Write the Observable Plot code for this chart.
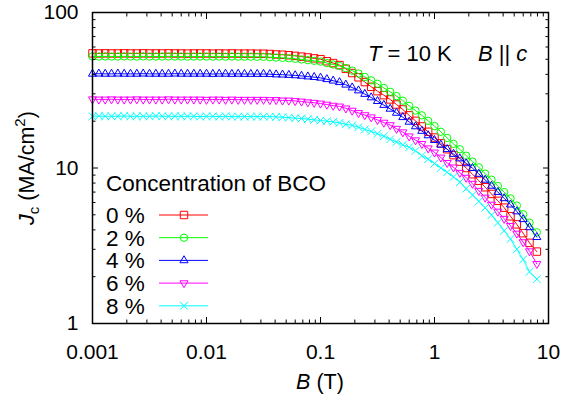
<!DOCTYPE html>
<html><head><meta charset="utf-8">
<script src="https://cdn.jsdelivr.net/npm/d3@7"></script>
<script src="https://cdn.jsdelivr.net/npm/@observablehq/plot@0.6"></script>
<style>
body{margin:0;background:#fff;}
#chart{position:relative;width:563px;height:396px;}
</style></head><body><div id="chart"></div>
<script>
// Magnetic field B (T)
const B = [0.001,0.001137,0.001292,0.001468,0.001668,0.001896,0.002154,0.002448,0.002783,0.003162,0.003594,0.004084,0.004642,0.005275,0.005995,0.006813,0.007743,0.008799,
0.01,0.01137,0.01292,0.01468,0.01668,0.01896,0.02154,0.02448,0.02783,0.03162,0.03594,0.04084,0.04642,0.05275,0.05995,0.06813,0.07743,0.08799,
0.1,0.1137,0.1292,0.1468,0.1668,0.1896,0.2154,0.2448,0.2783,0.3162,0.3594,0.4084,0.4642,0.5275,0.5995,0.6813,0.7743,0.8799,
1,1.137,1.292,1.468,1.668,1.896,2.154,2.448,2.783,3.162,3.594,4.084,4.642,5.275,5.995,6.813,7.9];

// Jc (MA/cm2) for each BCO concentration
const jc0 = [54.6,54.5,54.6,54.5,54.5,54.6,54.5,54.5,54.6,54.5,54.5,54.5,54.6,54.5,54.5,54.4,54.5,54.5,54.5,54.4,54.5,54.4,54.5,54.4,54.4,54.4,54.3,
54.3,54.1,53.7,53.5,53.1,52.6,52.0,51.4,50.7,50.1,48.6,47.3,45.9,43.4,40.8,38.3,35.7,33.3,31.2,29.4,27.6,25.6,23.8,21.8,20.1,18.5,17.1,15.7,14.4,13.2,12.1,11.0,10.0,9.12,8.28,7.52,6.81,6.15,5.56,4.89,4.34,3.81,3.30,2.90];
const jc2 = [52.2,52.1,52.2,52.1,52.1,52.2,52.1,52.1,52.2,52.1,52.1,52.1,52.2,52.1,52.1,52.0,52.1,52.1,52.1,52.0,52.1,52.0,52.1,52.0,52.0,52.0,51.9,
51.9,51.6,51.3,51.1,50.8,50.4,49.9,49.4,48.9,48.4,47.3,46.3,45.3,43.9,42.3,40.5,38.5,36.6,34.8,32.7,30.9,29.0,27.1,25.1,23.4,21.8,20.1,18.6,17.1,15.6,14.3,13.2,12.0,11.0,10.1,9.20,8.41,7.66,7.00,6.37,5.73,5.04,4.45,3.86];
const jc4 = [40.3,40.4,40.3,40.3,40.4,40.3,40.3,40.3,40.4,40.3,40.3,40.3,40.3,40.4,40.3,40.3,40.3,40.3,40.3,40.2,40.3,40.3,40.2,40.3,40.2,40.2,40.2,
40.2,40.1,39.9,39.8,39.6,39.4,39.1,38.7,38.4,38.0,37.2,36.4,35.6,34.3,32.9,31.5,29.9,28.4,26.9,25.4,24.0,22.6,21.2,19.8,18.5,17.3,16.2,15.1,14.1,13.2,12.3,11.5,10.7,9.98,9.16,8.39,7.67,7.00,6.38,5.81,5.25,4.68,4.15,3.59];
const jc6 = [27.7,27.6,27.6,27.7,27.6,27.6,27.6,27.7,27.6,27.6,27.6,27.6,27.7,27.6,27.6,27.6,27.6,27.6,27.5,27.6,27.6,27.5,27.6,27.5,27.5,27.5,27.5,
27.5,27.4,27.4,27.2,27.2,27.0,26.8,26.5,26.3,26.0,25.6,25.2,24.9,24.2,23.4,22.6,21.9,21.2,20.4,19.6,18.9,17.9,17.0,16.0,15.1,14.3,13.4,12.6,11.7,10.8,10.1,9.33,8.67,7.93,7.14,6.46,5.82,5.25,4.72,4.25,3.79,3.34,2.92,2.42];
const jc8 = [21.5,21.6,21.5,21.5,21.5,21.6,21.5,21.5,21.5,21.5,21.6,21.5,21.5,21.5,21.5,21.5,21.5,21.4,21.5,21.5,21.4,21.5,21.4,21.4,21.4,21.4,21.4,
21.4,21.4,21.3,21.2,21.1,20.9,20.8,20.6,20.4,20.2,20.0,19.8,19.5,19.1,18.8,18.3,17.7,17.2,16.6,16.0,15.3,14.7,14.1,13.6,12.9,12.0,11.4,10.7,10.0,9.38,8.77,8.11,7.36,6.70,6.10,5.55,4.98,4.45,3.95,3.50,3.00,2.58,2.15,1.93];

const seriesNames = ["0 %","2 %","4 %","6 %","8 %"];
const seriesColors = ["#ff0000","#00ff00","#0000ff","#ff00ff","#00ffff"];
const seriesSymbols = ["square","circle","triangle","triangle","times"];
const seriesRotate = [0,0,0,180,0];
const seriesR = [4.2,3.7,3.0,3.0,3.6];
const seriesValues = [jc0,jc2,jc4,jc6,jc8];

const xTicks = [0.001,0.01,0.1,1,10];
const xTickLabels = ["0.001","0.01","0.1","1","10"];
const yTicks = [1,10,100];
const yTickLabels = ["1","10","100"];
const xMinor = [0.001,0.01,0.1,1].flatMap(d => [2,3,4,5,6,7,8,9].map(m => d*m));
const yMinor = [1,10].flatMap(d => [2,3,4,5,6,7,8,9].map(m => d*m));

const FONT = "'Liberation Sans', Arial, Helvetica, sans-serif";
const FS = 21;
const FS_LEG = 22.5;
const FS_ANN = 22;

const tables = seriesValues.map((vals,i) => vals.map((v,j) => ({B: B[j], Jc: v, s: seriesNames[i]})));

const marks = [];
tables.forEach((t,i) => {
  marks.push(Plot.line(t, {x:"B", y:"Jc", stroke: seriesColors[i], strokeWidth: 1}));
  marks.push(Plot.dot(t, {x:"B", y:"Jc", symbol: seriesSymbols[i], r: seriesR[i], rotate: seriesRotate[i], stroke: seriesColors[i], strokeWidth: 1, fill: "none"}));
});

const noText = () => "";
marks.push(
  Plot.axisX(xTicks, {anchor:"bottom", tickSize:0, tickPadding:21, fontSize:FS, tickFormat: d => xTickLabels[xTicks.indexOf(d)], label:null}),
  Plot.axisX(xTicks, {anchor:"bottom", tickSize:-6, tickFormat: noText, label:null}),
  Plot.axisX(xMinor, {anchor:"bottom", tickSize:-3.5, tickFormat: noText, label:null}),
  Plot.axisX(xTicks, {anchor:"top", tickSize:-6, tickFormat: noText, label:null}),
  Plot.axisX(xMinor, {anchor:"top", tickSize:-3.5, tickFormat: noText, label:null}),
  Plot.axisY(yTicks, {anchor:"left", tickSize:0, tickPadding:14, fontSize:FS, tickFormat: d => yTickLabels[yTicks.indexOf(d)], label:null}),
  Plot.axisY(yTicks, {anchor:"left", tickSize:-6, tickFormat: noText, label:null}),
  Plot.axisY(yMinor, {anchor:"left", tickSize:-3.5, tickFormat: noText, label:null}),
  Plot.axisY(yTicks, {anchor:"right", tickSize:-6, tickFormat: noText, label:null}),
  Plot.axisY(yMinor, {anchor:"right", tickSize:-3.5, tickFormat: noText, label:null}),
  Plot.frame({stroke:"black", strokeWidth:1.5})
);

const svg = Plot.plot({
  width: 563, height: 396,
  marginLeft: 92, marginRight: 15, marginTop: 12, marginBottom: 73,
  style: {fontFamily: FONT, fontSize: FS + "px", background: "white", color: "black", overflow: "visible"},
  x: {type: "log", domain: [0.001, 10]},
  y: {type: "log", domain: [1, 100]},
  marks
});
document.getElementById("chart").appendChild(svg);

const s = d3.select(svg);
function txt(x, y, anchor, fs) {
  return s.append("text").attr("x", x).attr("y", y).attr("text-anchor", anchor || "start")
    .style("font-family", FONT).style("font-size", (fs || FS) + "px").attr("fill", "black");
}
// Axis titles
const xl = txt(320, 389, "middle", 21.5);
xl.append("tspan").attr("font-style","italic").text("B");
xl.append("tspan").text(" (T)");

const yl = s.append("text").attr("transform","translate(34,168) rotate(-90)").attr("text-anchor","middle")
  .style("font-family", FONT).style("font-size", "21.5px");
yl.append("tspan").attr("font-style","italic").text("J");
yl.append("tspan").attr("font-size", "15px").attr("dy", 5).text("c");
yl.append("tspan").attr("dy", -5).text(" (MA/cm");
yl.append("tspan").attr("font-size", "15px").attr("dy", -9).text("2");
yl.append("tspan").attr("dy", 9).text(")");

// Annotation
const t1 = txt(368, 61, "start", FS_ANN);
t1.append("tspan").attr("font-style","italic").text("T");
t1.append("tspan").text(" = 10 K");
const t2 = txt(478, 61, "start", FS_ANN);
t2.append("tspan").attr("font-style","italic").text("B");
t2.append("tspan").text(" || ");
t2.append("tspan").attr("font-style","italic").text("c");

// Legend
txt(106, 191, "start", FS_LEG).text("Concentration of BCO");
const symMap = {square: d3.symbolSquare, circle: d3.symbolCircle, triangle: d3.symbolTriangle, times: d3.symbolTimes};
seriesNames.forEach((name, i) => {
  const cy = 215 + i * 22.7;
  txt(106, cy + 8, "start", FS_LEG).text(name);
  s.append("line").attr("x1", 159).attr("x2", 208).attr("y1", cy).attr("y2", cy)
    .attr("stroke", seriesColors[i]).attr("stroke-width", 1);
  s.append("path").attr("d", d3.symbol(symMap[seriesSymbols[i]], Math.PI * seriesR[i] * seriesR[i])())
    .attr("transform", `translate(184,${cy}) rotate(${seriesRotate[i]})`)
    .attr("fill", "none").attr("stroke", seriesColors[i]).attr("stroke-width", 1);
});
</script>
</body></html>
